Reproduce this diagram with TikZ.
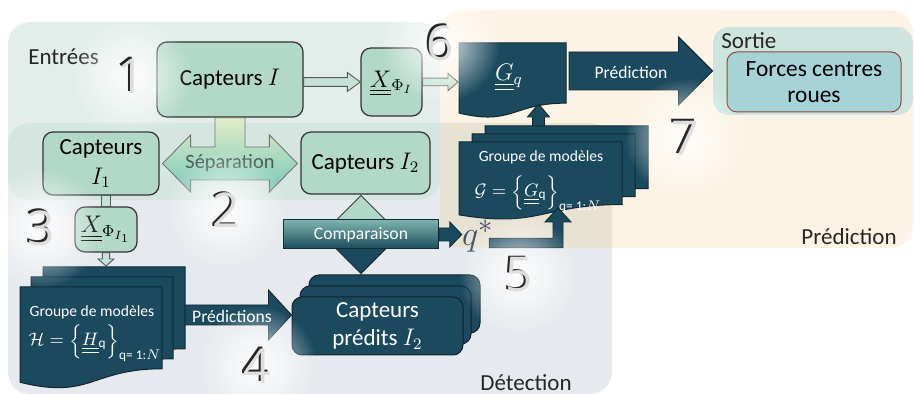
\documentclass[tikz,border=0pt]{standalone}
\usepackage{amsmath, amssymb}
\usepackage{fontspec}
\setmainfont{Carlito}
\newfontfamily\digitfont{Open Sans}
\usepackage{tikz}
\usetikzlibrary{calc,fadings}

\definecolor{darkteal}{RGB}{27,74,94}
\definecolor{boxgreen}{RGB}{178,216,200}
\definecolor{hollowgreen}{RGB}{196,226,213}
\definecolor{entcol}{RGB}{227,238,234}
\definecolor{bandcol}{RGB}{213,230,224}
\definecolor{detcol}{RGB}{230,234,238}
\definecolor{predcol}{RGB}{252,243,228}
\definecolor{overcol}{RGB}{232,226,210}
\definecolor{sortiecol}{RGB}{205,228,223}
\definecolor{forcescol}{RGB}{166,211,216}
\definecolor{forcesline}{RGB}{138,74,58}
\definecolor{seplabel}{RGB}{72,92,88}
\definecolor{septop}{RGB}{226,237,200}
\definecolor{sepmid}{RGB}{178,222,206}
\definecolor{sepbot}{RGB}{120,200,185}
\definecolor{comptop}{RGB}{125,180,172}
\definecolor{qcol}{RGB}{60,78,100}

\tikzfading[name=glowfade, inner color=transparent!10, outer color=transparent!100]

\newcommand\dul[1]{\smash[b]{\underline{\underline{#1}}}}
\newcommand\hblock[6][]{%
  \path[#1] let \p1=#2, \p2=#3 in
    (\x1,{\y1+#4}) -- ({\x2-#6},{\y1+#4}) -- ({\x2-#6},{\y1+#5}) -- (\x2,\y1)
    -- ({\x2-#6},{\y1-#5}) -- ({\x2-#6},{\y1-#4}) -- (\x1,{\y1-#4}) -- cycle;}
\newcommand\vblock[6][]{%
  \path[#1] let \p1=#2, \p2=#3 in
    ({\x1-#4},\y1) -- ({\x1-#4},{\y2+(#6)}) -- ({\x1-#5},{\y2+(#6)}) -- (\x1,\y2)
    -- ({\x1+#5},{\y2+(#6)}) -- ({\x1+#4},{\y2+(#6)}) -- ({\x1+#4},\y1) -- cycle;}
\newcommand\docpath[4][]{%
  \path[#1] let \p1=($(#2.north west)+(#3,#4)$), \p2=($(#2.south east)+(#3,#4)$) in
    (\x1,\y1) -- (\x2,\y1) -- (\x2,{\y1+0.802*(\y2-\y1)})
    .. controls ({0.5*(\x1+\x2)},{\y1+0.802*(\y2-\y1)}) and ({0.5*(\x1+\x2)},{\y1+1.107*(\y2-\y1)})
    .. (\x1,{\y1+0.934*(\y2-\y1)}) -- cycle;}

\tikzset{
  capbox/.style={draw=black!80, fill=boxgreen, rounded corners=5pt, line width=0.6pt,
    font=\fontsize{11.5}{15}\selectfont, inner sep=1pt, align=center},
  hollow/.style={draw=black!65, fill=hollowgreen, line width=0.45pt},
  darkarrow/.style={draw=darkteal!55!black, fill=darkteal, line width=0.45pt},
  docshape/.style={draw=darkteal!55!black, fill=darkteal, line width=0.5pt},
  predbox/.style={draw=darkteal!45!black, fill=darkteal, rounded corners=5pt, line width=0.5pt},
  ghost/.style={inner sep=0pt, outer sep=0pt},
  whitetxt/.style={text=white, inner sep=1pt, align=center},
  arrowlbl/.style={whitetxt, font=\fontsize{8.8}{10}\selectfont},
  grouptxt/.style={whitetxt, inner sep=0pt, font=\fontsize{7.8}{9}\selectfont},
  mathtxt/.style={whitetxt, inner sep=0pt, font=\fontsize{9.5}{11}\selectfont},
  regionlbl/.style={text=black!85, font=\fontsize{11.5}{14}\selectfont, inner sep=0pt},
  compbox/.style={draw=darkteal!60!black, top color=comptop, bottom color=darkteal, line width=0.5pt,
    minimum width=77.5pt, minimum height=14.5pt, text=white, font=\fontsize{8.8}{10}\selectfont},
  stepnum/.style={font=\digitfont\fontsize{24}{24}\selectfont, inner sep=0pt},
}

\begin{document}
\begin{tikzpicture}[x=0.5pt,y=-0.5pt]
\useasboundingbox (0,0) rectangle (915,394);

\fill[entcol, rounded corners=11pt] (8,22) rectangle (440,200);
\fill[detcol, rounded corners=11pt] (8,123) rectangle (612,394);
\begin{scope}
  \clip[rounded corners=11pt] (8,22) rectangle (440,200);
  \fill[bandcol, rounded corners=11pt] (8,123) rectangle (612,394);
\end{scope}
\fill[predcol, rounded corners=11pt] (440,10) rectangle (913,248);
\begin{scope}
  \clip[rounded corners=11pt] (440,10) rectangle (913,248);
  \fill[overcol, rounded corners=11pt] (8,123) rectangle (612,394);
\end{scope}

\path (813,71) node[fill=sortiecol, rounded corners=8pt, minimum width=100pt, minimum height=44pt] (sortie) {}
      (721,41) node[regionlbl, anchor=west] (sortielbl) {Sortie}
      (814,82) node[draw=forcesline, fill=forcescol, rounded corners=5pt, line width=0.5pt,
                    minimum width=87pt, minimum height=30pt, align=center,
                    font=\fontsize{11.7}{13}\selectfont] (forces) {Forces centres\\roues}
      (28,57) node[regionlbl, anchor=west] (entlbl) {Entrées}
      (572,383) node[regionlbl, anchor=east] (detlbl) {Détection}
      (897,237) node[regionlbl, anchor=east] (predreg) {Prédiction};

\path (230,79.5) node[capbox, minimum width=73pt, minimum height=37.5pt] (capI) {Capteurs $I$}
      (391.5,82) node[capbox, minimum width=30.5pt, minimum height=34pt] (xI) {$\dul{X}_{\Phi_I}$}
      (101,163.5) node[capbox, minimum width=58pt, minimum height=31.5pt] (capI1) {Capteurs\\$I_1$}
      (365.5,163) node[capbox, minimum width=64.5pt, minimum height=31pt] (capI2) {Capteurs $I_2$}
      (106,229.5) node[capbox, minimum width=31pt, minimum height=22.5pt] (xI1) {$\dul{X}_{\Phi_{I_1}}$};

\path (512.5,80.5) node[ghost, minimum width=53.5pt, minimum height=37.5pt] (gq) {}
      (540.5,181) node[ghost, minimum width=81.5pt, minimum height=39pt] (gdoc) {}
      (91,338) node[ghost, minimum width=71pt, minimum height=51pt] (hdoc) {}
      (377.5,326) node[ghost, minimum width=85.5pt, minimum height=29pt] (predbb) {};

\hblock[hollow]{(capI.east |- xI.west)}{(xI.west)}{2.2pt}{4.7pt}{6.5pt}
\hblock[hollow]{(xI.east)}{($(gq.west)+(-1,0)$)}{1.9pt}{4.3pt}{5pt}
\path[hollow] let \p1=(xI1.north), \p2=(capI1.south) in ({\x1-2.25pt},\y2) rectangle ({\x1+2.25pt},\y1);
\vblock[hollow]{(xI1.south)}{($(xI1.south |- hdoc.north)+(0,-21)$)}{1.8pt}{4pt}{3.5pt}

\path[draw=black!55, line width=0.45pt, top color=septop, middle color=sepmid, bottom color=sepbot]
  let \p1=(capI.south), \p2=(capI1.east), \p3=(capI2.west) in
  ({\x1-7.5pt},\y1) -- ({\x1+7.5pt},\y1) -- ({\x1+7.5pt},{\y2+8.25pt}) -- ({\x3-15.5pt},{\y2+8.25pt})
  -- ({\x3-15.5pt},{\y2+14.25pt}) -- ({\x3-1.5pt},\y2) -- ({\x3-15.5pt},{\y2-14.25pt}) -- ({\x3-15.5pt},{\y2-8.25pt})
  -- ({\x2+15.5pt},{\y2-8.25pt}) -- ({\x2+15.5pt},{\y2-14.25pt}) -- ({\x2+1.5pt},\y2) -- ({\x2+15.5pt},{\y2+14.25pt})
  -- ({\x2+15.5pt},{\y2+8.25pt}) -- ({\x1-7.5pt},{\y2+8.25pt}) -- cycle;
\path (230,163) node[text=seplabel, font=\fontsize{10.2}{12}\selectfont] (seplbl) {Séparation};

\docpath[docshape]{gq}{0pt}{0pt}
\docpath[docshape]{gdoc}{13pt}{8pt}
\docpath[docshape]{gdoc}{6.5pt}{4pt}
\docpath[docshape]{gdoc}{0pt}{0pt}
\docpath[docshape]{hdoc}{11.5pt}{10pt}
\docpath[docshape]{hdoc}{5.5pt}{5pt}
\docpath[docshape]{hdoc}{0pt}{0pt}
\draw[predbox] ($(predbb.south west)+(17,-22)$) rectangle ($(predbb.north east)+(17,-22)$);
\draw[predbox] ($(predbb.south west)+(8,-11)$) rectangle ($(predbb.north east)+(8,-11)$);
\path (predbb) node[predbox, minimum width=85.5pt, minimum height=29pt, whitetxt,
                    font=\fontsize{11.5}{14}\selectfont] (pred) {Capteurs\\prédits $I_2$};

\path (509,76) node[whitetxt, font=\fontsize{12}{14}\selectfont] (gqtxt) {$\dul{G}_q$}
      (541,157) node[grouptxt] (gtitle) {Groupe de modèles}
      (538,194) node[mathtxt] (gform) {$\mathcal{G} = \Big\{\dul{G}_{\mathrm{q}}\Big\}_{\text{q= 1:}N}$}
      (92,312) node[grouptxt] (htitle) {Groupe de modèles}
      (95,343) node[mathtxt] (hform) {$\mathcal{H} = \Big\{\dul{H}_{\mathrm{q}}\Big\}_{\text{q= 1:}N}$};

\coordinate (compc) at (361,234.5);
\path[draw=black!75, fill=boxgreen, line width=0.5pt] let \p1=(compc) in
  ({\x1-19.5pt},\y1) -- (\x1,{\y1+19.5pt}) -- ({\x1+19.5pt},\y1) -- cycle;
\path[darkarrow] let \p1=(compc) in
  ({\x1-19.5pt},\y1) -- (\x1,{\y1-19.5pt}) -- ({\x1+19.5pt},\y1) -- cycle;
\path (compc) node[compbox] (comp) {Comparaison}
      (478,236) node[text=qcol, inner sep=0pt, font=\fontsize{19}{19}\selectfont] (qstar) {$q^{*}$};

\hblock[darkarrow]{($(hdoc.north east)+(23,28)$)}{(pred.west)}{5pt}{12.5pt}{11.5pt}
\hblock[darkarrow]{(comp.east)}{(qstar.west)}{3.25pt}{6.25pt}{6pt}
\hblock[darkarrow]{($(gq.north east)+(3,28)$)}{(sortie.west)}{9.5pt}{17pt}{17pt}
\vblock[darkarrow]{($(gdoc.north)+(-2,-16)$)}{($(gq.south)+(0,-14)$)}{3pt}{5.5pt}{-6.5pt}
\coordinate (gin) at ($(gdoc.north west)+(99,66)$);
\path[darkarrow] let \p1=($(qstar.east)+(-5,7)$), \p2=(gin) in
  (\x1,{\y1+2.3pt}) -- ({\x2-2.5pt},{\y1+2.3pt}) -- ({\x2-2.5pt},{\y2-7pt}) -- ({\x2-6.5pt},{\y2-7pt}) -- (\x2,\y2)
  -- ({\x2+6.5pt},{\y2-7pt}) -- ({\x2+2.5pt},{\y2-7pt}) -- ({\x2+2.5pt},{\y1-2.3pt}) -- (\x1,{\y1-2.3pt}) -- cycle;

\path (631,72) node[arrowlbl] (predlbl) {Prédiction}
      (232,316) node[arrowlbl] (predslbl) {Prédictions};

\foreach \n/\cx/\cy in {1/131/76,2/226/210,3/41/228,4/257/366,5/519/275,6/440/43,7/685/138}{
  \fill[white, path fading=glowfade] (\cx,\cy) circle (60);
  \path (\cx-1.3,\cy-1.3) node[stepnum, text=black!85] (s\n) {\n}
        (\cx,\cy) node[stepnum, text=black!13] (d\n) {\n};
}
\end{tikzpicture}
\end{document}
